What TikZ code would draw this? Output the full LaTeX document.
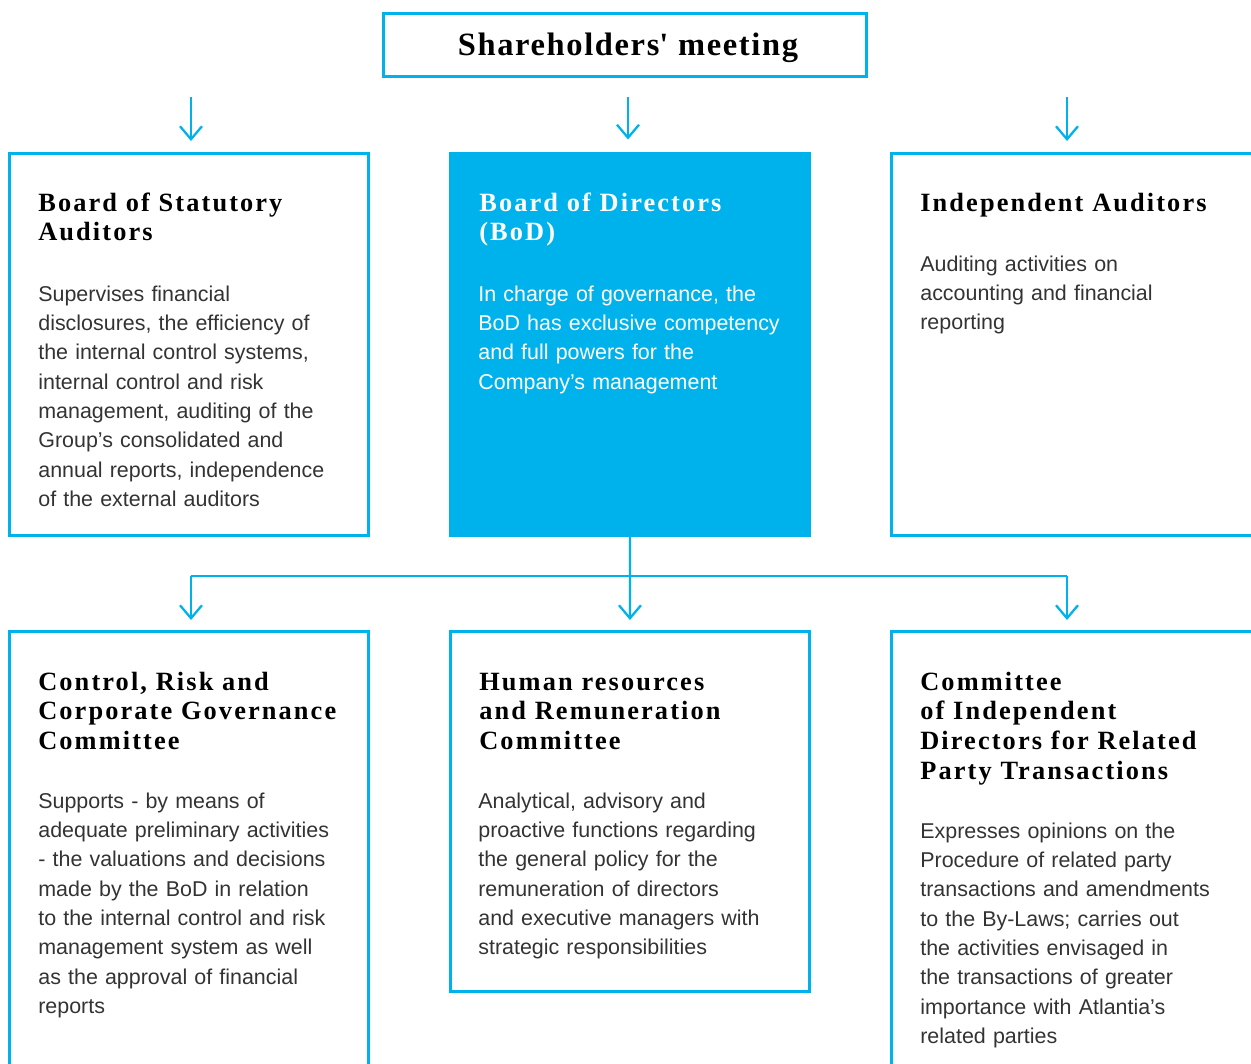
\documentclass[tikz,border=0pt]{standalone}
\usepackage{fontspec}
\usepackage{tikz}
\usetikzlibrary{arrows.meta}

\newfontfamily\headfont{Liberation Serif}[LetterSpace=8]
\newfontfamily\topfont{Liberation Serif}[LetterSpace=5]
\newfontfamily\bodyfont{Liberation Sans}
\definecolor{govblue}{RGB}{0,178,235}

\begin{document}
\begin{tikzpicture}[x=0.02cm, y=-0.02cm,
	box/.style={draw=govblue, line width=1.5pt, inner sep=0pt, outer sep=0pt, anchor=north west},
	head/.style={anchor=base west, inner sep=0pt, text width=7cm, align=left,
		font=\headfont\bfseries\fontsize{15}{16.9}\selectfont},
	body/.style={anchor=base west, inner sep=0pt, text width=7cm, align=left,
		text=black!80, font=\bodyfont\fontsize{12.2}{16.7}\selectfont},
	link/.style={draw=govblue, line width=1.3pt},
	>={Straight Barb[length=2.6mm, width=4.4mm]}]
	\useasboundingbox (0,0) rectangle (1251,1063);

	% top box
	\node[box, anchor=center, minimum width=9.66cm, minimum height=1.26cm] (sh) at (625,45) {};
	\node[inner sep=0pt, anchor=base, font=\topfont\bfseries\fontsize{18.5}{20}\selectfont] (sh-title)
		at (628,55) {Shareholders\textquotesingle{} meeting};

	% first row
	\node[box, minimum width=7.18cm, minimum height=7.64cm] (bsa) at (9.5,153.5) {};
	\node[fill=govblue, inner sep=0pt, outer sep=0pt, anchor=north west, minimum width=7.24cm, minimum height=7.7cm] (bod) at (449,152) {};
	\node[box, minimum width=7.24cm, minimum height=7.64cm] (ia) at (891.5,153.5) {};

	\node[head] (bsa-title) at (38,211) {Board of Statutory\\Auditors};
	\node[body] (bsa-text) at (38,301) {Supervises financial\\disclosures, the efficiency of\\the internal control systems,\\internal control and risk\\management, auditing of the\\Group’s consolidated and\\annual reports, independence\\of the external auditors};
	\node[head, text=white] (bod-title) at (479,211) {Board of Directors\\(BoD)};
	\node[body, text=white] (bod-text) at (478,301) {In charge of governance, the\\BoD has exclusive competency\\and full powers for the\\Company’s management};
	\node[head] (ia-title) at (920,211) {Independent Auditors};
	\node[body] (ia-text) at (920,271) {Auditing activities on\\accounting and financial\\reporting};

	% second row
	\node[box, minimum width=7.18cm, minimum height=9cm] (crc) at (9.5,631.5) {};
	\node[box, minimum width=7.18cm, minimum height=7.2cm] (hrc) at (450.5,631.5) {};
	\node[box, minimum width=7.24cm, minimum height=9cm] (cid) at (891.5,631.5) {};

	\node[head] (crc-title) at (38,690) {Control, Risk and\\Corporate Governance\\Committee};
	\node[body] (crc-text) at (38,808) {Supports - by means of\\adequate preliminary activities\\- the valuations and decisions\\made by the BoD in relation\\to the internal control and risk\\management system as well\\as the approval of financial\\reports};
	\node[head] (hrc-title) at (479,690) {Human resources\\and Remuneration\\Committee};
	\node[body] (hrc-text) at (478,808) {Analytical, advisory and\\proactive functions regarding\\the general policy for the\\remuneration of directors\\and executive managers with\\strategic responsibilities};
	\node[head] (cid-title) at (920,690) {Committee\\of Independent\\Directors for Related\\Party Transactions};
	\node[body] (cid-text) at (920,838) {Expresses opinions on the\\Procedure of related party\\transactions and amendments\\to the By-Laws; carries out\\the activities envisaged in\\the transactions of greater\\importance with Atlantia’s\\related parties};

	% arrows under the meeting
	\coordinate (a1) at (191,97);
	\coordinate (a2) at (628,97);
	\coordinate (a3) at (1067,97);
	\draw[link, ->, shorten >=0.25cm] (a1) -- (a1 |- bsa.north);
	\draw[link, ->, shorten >=0.25cm] (a2) -- (a2 |- bod.north);
	\draw[link, ->, shorten >=0.25cm] (a3) -- (a3 |- ia.north);

	% committees below the board
	\coordinate (split) at (630,576);
	\draw[link, ->, shorten >=0.23cm] (bod.south) -- (hrc.north);
	\draw[link] (a1 |- split) -- (a3 |- split);
	\draw[link, ->, shorten >=0.23cm] (a1 |- split) -- (a1 |- crc.north);
	\draw[link, ->, shorten >=0.23cm] (a3 |- split) -- (a3 |- cid.north);
\end{tikzpicture}
\end{document}
